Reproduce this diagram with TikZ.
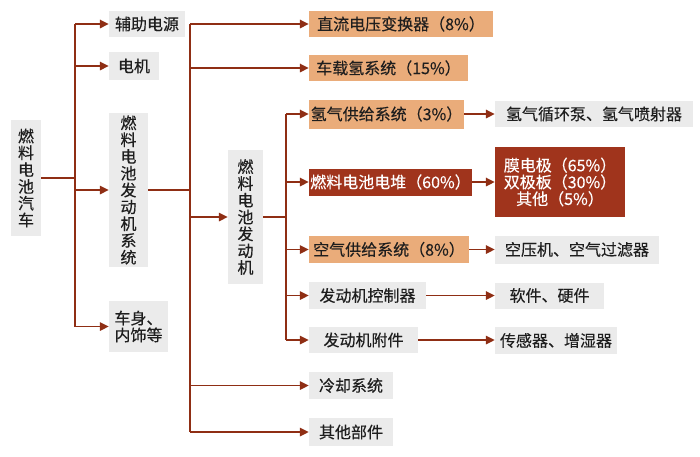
\documentclass[tikz,border=0pt]{standalone}
\usepackage{fontspec}
\newfontfamily\cjk[FakeBold=0.3]{Noto Sans CJK SC}
\usetikzlibrary{arrows.meta}
\definecolor{gbg}{HTML}{EBEBEB}
\definecolor{obg}{HTML}{EAAC7A}
\definecolor{rbg}{HTML}{A0341C}
\definecolor{ln}{HTML}{8F2E14}
\definecolor{tx}{HTML}{1E1E1E}
\tikzset{
  base/.style={inner sep=0pt, align=center, text=tx, font=\cjk\fontsize{16}{16.8}\selectfont},
  gbox/.style={base, fill=gbg},
  obox/.style={base, fill=obg},
  rbox/.style={base, fill=rbg, text=white},
  wire/.style={draw=ln, line width=1.6pt},
  arr/.style={wire, -{Triangle[length=9pt,width=8.5pt]}, shorten >=0pt},
}
\begin{document}
\begin{tikzpicture}[x=1pt,y=-1pt]
\useasboundingbox (0,0) rectangle (700,456);
% column 1
\node[gbox, minimum width=30pt, minimum height=116pt] (root) at (26,178) {燃\\料\\电\\池\\汽\\车};
% column 2
\node[gbox, minimum width=76pt, minimum height=26pt] (fz) at (147,24) {辅助电源};
\node[gbox, minimum width=50pt, minimum height=28pt] (dj) at (134,66) {电机};
\node[gbox, minimum width=39pt, minimum height=154pt] (fdjxt) at (128.5,190) {燃\\料\\电\\池\\发\\动\\机\\系\\统};
\node[gbox, minimum width=59pt, minimum height=51pt] (cs) at (138.5,326.5) {车身、\\内饰等};
% column 3
\node[gbox, minimum width=35pt, minimum height=134pt] (fdj) at (245.5,217) {燃\\料\\电\\池\\发\\动\\机};
% column 4
\node[obox, minimum width=184pt, minimum height=26pt] (dc) at (401,24) {直流电压变换器（8\%）};
\node[obox, minimum width=159pt, minimum height=26pt] (cz) at (388.5,68) {车载氢系统（15\%）};
\node[obox, minimum width=155pt, minimum height=29pt] (qq) at (386.5,114) {氢气供给系统（3\%）};
\node[rbox, minimum width=163pt, minimum height=27pt] (dd) at (390.5,182) {燃料电池电堆（60\%）};
\node[obox, minimum width=160pt, minimum height=27pt] (kq) at (389,249.5) {空气供给系统（8\%）};
\node[gbox, minimum width=117pt, minimum height=27pt] (kz) at (367.5,295.5) {发动机控制器};
\node[gbox, minimum width=109pt, minimum height=26pt] (fj) at (363.5,340) {发动机附件};
\node[gbox, minimum width=84pt, minimum height=27pt] (lq) at (351,385.5) {冷却系统};
\node[gbox, minimum width=84pt, minimum height=28pt] (qt) at (351,432) {其他部件};
% column 5
\node[gbox, minimum width=198pt, minimum height=26pt] (r1) at (594,114) {氢气循环泵、氢气喷射器};
\node[rbox, minimum width=130pt, minimum height=70pt] (r2) at (560,182) {膜电极（65\%）\\双极板（30\%）\\其他（5\%）};
\node[gbox, minimum width=164pt, minimum height=28pt] (r3) at (577,249.5) {空压机、空气过滤器};
\node[gbox, minimum width=109pt, minimum height=26pt] (r4) at (549.5,295.5) {软件、硬件};
\node[gbox, minimum width=122pt, minimum height=27pt] (r5) at (556,340.5) {传感器、增湿器};
% trunks
\coordinate (t1) at (75,178);
\coordinate (t2) at (190,190);
\coordinate (t3) at (286,217);
\draw[wire] (root.east) -- (t1);
\draw[wire] (t1 |- fz.west) -- (t1 |- cs.west);
\foreach \n in {fz,dj,fdjxt,cs} \draw[arr] (t1 |- \n.west) -- (\n.west);
\draw[wire] (fdjxt.east) -- (t2);
\draw[wire] (t2 |- dc.west) -- (t2 |- qt.west);
\foreach \n in {dc,cz,fdj,lq,qt} \draw[arr] (t2 |- \n.west) -- (\n.west);
\draw[wire] (fdj.east) -- (t3);
\draw[wire] (t3 |- qq.west) -- (t3 |- fj.west);
\foreach \n in {qq,dd,kq,kz,fj} \draw[arr] (t3 |- \n.west) -- (\n.west);
\draw[arr] (qq.east) -- (qq.east -| r1.west);
\draw[arr] (dd.east) -- (dd.east -| r2.west);
\draw[arr] (kq.east) -- (kq.east -| r3.west);
\draw[arr] (kz.east) -- (kz.east -| r4.west);
\draw[arr] (fj.east) -- (fj.east -| r5.west);
\end{tikzpicture}
\end{document}
